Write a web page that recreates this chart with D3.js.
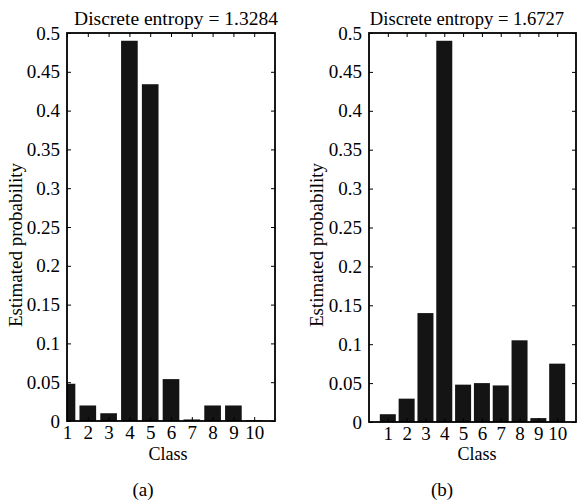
<!DOCTYPE html>
<html>
<head>
<meta charset="utf-8">
<script src="https://cdn.jsdelivr.net/npm/d3@7"></script>
<style>
  body { margin: 0; background: #fff; }
  svg text { font-family: "Liberation Serif", "Times New Roman", serif; fill: #000; }
</style>
</head>
<body>
<svg id="chart" width="577" height="504"></svg>
<script>
// クラスと推定確率
const classes = [1, 2, 3, 4, 5, 6, 7, 8, 9, 10];
const probA = [0.048, 0.02, 0.01, 0.49, 0.434, 0.054, 0.002, 0.02, 0.02, 0.001];
const probB = [0.01, 0.03, 0.14, 0.49, 0.048, 0.05, 0.047, 0.105, 0.005, 0.075];
const yTicks = [0, 0.05, 0.1, 0.15, 0.2, 0.25, 0.3, 0.35, 0.4, 0.45, 0.5];
const titleA = "Discrete entropy = 1.3284";
const titleB = "Discrete entropy = 1.6727";

const serif = "Liberation Serif";
const svg = d3.select("#chart");

// パネルを描画する関数
function drawPanel(cfg) {
    const x = d3.scaleLinear().domain(cfg.xDomain).range([cfg.left, cfg.right]);
    const y = d3.scaleLinear().domain([0, 0.5]).range([cfg.bottom, cfg.top]);
    const g = svg.append("g").attr("font-family", serif);

    const clipId = "clip-" + cfg.id;
    g.append("clipPath")
        .attr("id", clipId)
        .append("rect")
        .attr("x", cfg.left)
        .attr("y", cfg.top)
        .attr("width", cfg.right - cfg.left)
        .attr("height", cfg.bottom - cfg.top);

    // 棒グラフ
    const bw = (x(2) - x(1)) * cfg.barRatio;
    g.append("g")
        .attr("clip-path", `url(#${clipId})`)
        .selectAll("rect")
        .data(classes.map((c, i) => ({ c, p: cfg.data[i] })))
        .enter()
        .append("rect")
        .attr("x", (d) => x(d.c) - bw / 2)
        .attr("y", (d) => y(d.p))
        .attr("width", bw)
        .attr("height", (d) => y(0) - y(d.p))
        .attr("fill", "#141414");

    // 軸（内向きの目盛り）
    const fmt = (d) => String(+d.toFixed(2));
    g.append("g")
        .attr("transform", `translate(${cfg.left},0)`)
        .call(d3.axisLeft(y).tickValues(yTicks).tickSize(-4).tickPadding(7).tickFormat(fmt))
        .call((a) => a.select(".domain").remove());
    g.append("g")
        .attr("transform", `translate(${cfg.right},0)`)
        .call(d3.axisRight(y).tickValues(yTicks).tickSize(-4).tickFormat(""))
        .call((a) => a.select(".domain").remove());
    g.append("g")
        .attr("transform", `translate(0,${cfg.bottom})`)
        .call(d3.axisBottom(x).tickValues(classes).tickSize(-4).tickPadding(5).tickFormat(d3.format("d")))
        .call((a) => a.select(".domain").remove());
    g.append("g")
        .attr("transform", `translate(0,${cfg.top})`)
        .call(d3.axisTop(x).tickValues(classes).tickSize(-4).tickFormat(""))
        .call((a) => a.select(".domain").remove());

    g.selectAll(".tick text")
        .attr("font-family", serif)
        .attr("font-size", 19)
        .attr("fill", "#000");
    g.selectAll(".tick line").attr("stroke", "#000").attr("stroke-width", 1);

    // 枠
    g.append("rect")
        .attr("x", cfg.left)
        .attr("y", cfg.top)
        .attr("width", cfg.right - cfg.left)
        .attr("height", cfg.bottom - cfg.top)
        .attr("fill", "none")
        .attr("stroke", "#000")
        .attr("stroke-width", 1.8);

    // テキスト
    g.append("text")
        .attr("x", cfg.titleX)
        .attr("y", 25)
        .attr("text-anchor", "middle")
        .attr("font-size", cfg.titleSize)
        .text(cfg.title);
    g.append("text")
        .attr("transform", `translate(${cfg.ylabX},245) rotate(-90)`)
        .attr("text-anchor", "middle")
        .attr("font-size", 19)
        .text("Estimated probability");
    g.append("text")
        .attr("x", cfg.classX)
        .attr("y", 460)
        .attr("text-anchor", "middle")
        .attr("font-size", 18)
        .text("Class");
    g.append("text")
        .attr("x", cfg.capX)
        .attr("y", 496)
        .attr("text-anchor", "middle")
        .attr("font-size", 19)
        .text(cfg.caption);
}

drawPanel({
    id: "a", data: probA, xDomain: [1, 11], left: 67, right: 275, top: 33, bottom: 421,
    barRatio: 0.8, title: titleA, titleX: 176, titleSize: 19.5, ylabX: 22, classX: 168, capX: 143, caption: "(a)"
});
drawPanel({
    id: "b", data: probB, xDomain: [0, 11], left: 369, right: 576, top: 33, bottom: 422,
    barRatio: 0.85, title: titleB, titleX: 467, titleSize: 18.6, ylabX: 323, classX: 477, capX: 442, caption: "(b)"
});
</script>
</body>
</html>
